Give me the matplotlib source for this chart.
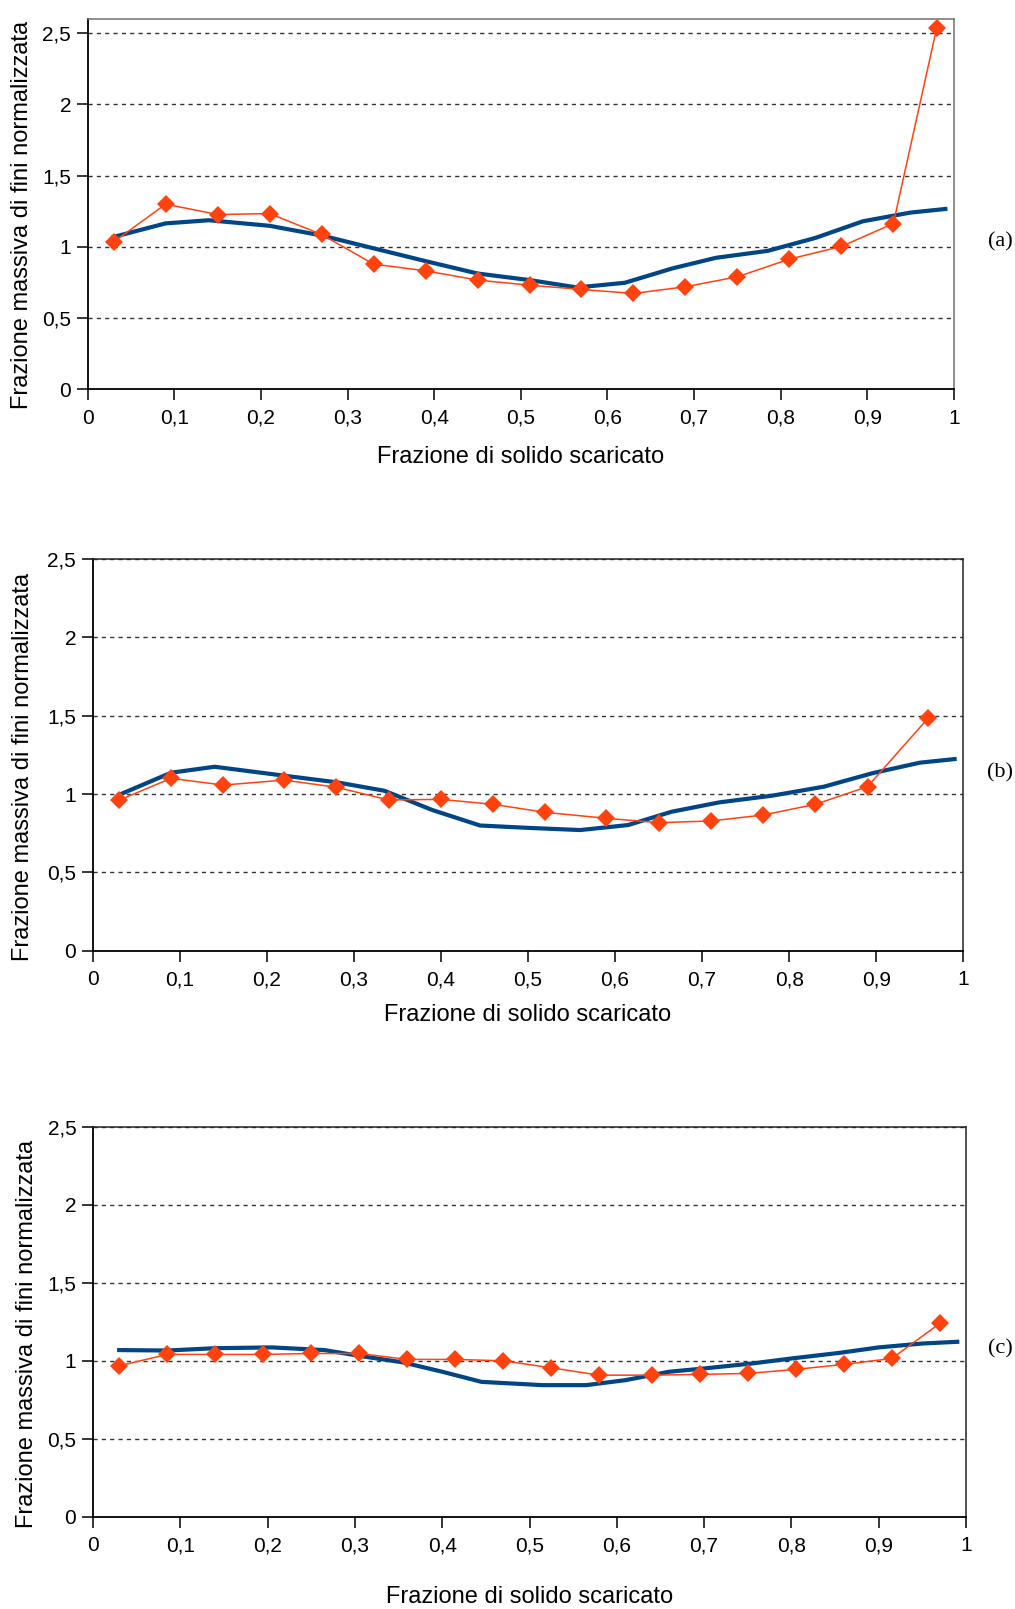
import matplotlib
matplotlib.use("Agg")
import matplotlib.pyplot as plt

plt.rcParams['font.family'] = ['Liberation Sans', 'DejaVu Sans']

# ---------------- data ----------------
xticks = [0, 0.1, 0.2, 0.3, 0.4, 0.5, 0.6, 0.7, 0.8, 0.9, 1]
xtick_labels = ["0", "0,1", "0,2", "0,3", "0,4", "0,5", "0,6", "0,7", "0,8", "0,9", "1"]
yticks = [0, 0.5, 1, 1.5, 2, 2.5]
ytick_labels = ["0", "0,5", "1", "1,5", "2", "2,5"]

# panel (a)
a_exp_x = [0.03, 0.09, 0.15, 0.21, 0.27, 0.33, 0.39, 0.45, 0.51, 0.57, 0.63, 0.69, 0.75, 0.81, 0.87, 0.93, 0.98]
a_exp_y = [1.035, 1.30, 1.227, 1.234, 1.087, 0.879, 0.832, 0.767, 0.731, 0.701, 0.673, 0.720, 0.790, 0.914, 1.003, 1.164, 2.536]
a_mod_x = [0.03, 0.09, 0.14, 0.21, 0.27, 0.33, 0.39, 0.45, 0.51, 0.565, 0.62, 0.675, 0.725, 0.785, 0.84, 0.895, 0.95, 0.99]
a_mod_y = [1.07, 1.165, 1.187, 1.148, 1.08, 0.99, 0.90, 0.813, 0.767, 0.715, 0.748, 0.849, 0.923, 0.972, 1.063, 1.180, 1.241, 1.266]

# panel (b)
b_exp_x = [0.03, 0.09, 0.15, 0.22, 0.28, 0.34, 0.40, 0.46, 0.52, 0.59, 0.65, 0.71, 0.77, 0.83, 0.89, 0.96]
b_exp_y = [0.96, 1.10, 1.057, 1.089, 1.043, 0.962, 0.966, 0.934, 0.883, 0.845, 0.817, 0.828, 0.866, 0.934, 1.047, 1.487]
b_mod_x = [0.03, 0.09, 0.14, 0.22, 0.28, 0.335, 0.39, 0.445, 0.50, 0.56, 0.615, 0.665, 0.72, 0.78, 0.84, 0.895, 0.95, 0.99]
b_mod_y = [0.994, 1.136, 1.174, 1.117, 1.075, 1.021, 0.898, 0.799, 0.784, 0.770, 0.802, 0.887, 0.947, 0.989, 1.047, 1.132, 1.200, 1.223]

# panel (c)
c_exp_x = [0.03, 0.085, 0.14, 0.195, 0.25, 0.305, 0.36, 0.415, 0.47, 0.525, 0.58, 0.64, 0.695, 0.75, 0.805, 0.86, 0.915, 0.97]
c_exp_y = [0.968, 1.041, 1.041, 1.041, 1.047, 1.047, 1.009, 1.009, 1.000, 0.955, 0.908, 0.908, 0.913, 0.919, 0.945, 0.977, 1.015, 1.240]
c_mod_x = [0.03, 0.085, 0.14, 0.205, 0.265, 0.305, 0.355, 0.40, 0.445, 0.515, 0.565, 0.61, 0.66, 0.70, 0.755, 0.80, 0.855, 0.90, 0.95, 0.99]
c_mod_y = [1.069, 1.066, 1.081, 1.086, 1.069, 1.032, 0.990, 0.930, 0.865, 0.844, 0.844, 0.876, 0.930, 0.951, 0.983, 1.015, 1.051, 1.086, 1.111, 1.122]

xlabel = "Frazione di solido scaricato"
ylabel = "Frazione massiva di fini normalizzata"
panel_tags = ["(a)", "(b)", "(c)"]

BLUE = "#004586"
ORANGE = "#FF420E"

W, H = 1015, 1609
fig = plt.figure(figsize=(W / 100, H / 100), dpi=100)

# axes boxes in pixels: left, right, top, bottom
boxes = [
    (87.7, 954.0, 19.0, 389.3),
    (92.7, 963.3, 559.0, 950.7),
    (93.0, 966.0, 1127.0, 1516.7),
]
ymaxs = [2.6, 2.5, 2.5]
xlab_off = [68, 64, 80]
ylab_x = [21.7, 23.0, 26.7]
tag_y = [242, 773, 1349]

panels = [
    (a_exp_x, a_exp_y, a_mod_x, a_mod_y),
    (b_exp_x, b_exp_y, b_mod_x, b_mod_y),
    (c_exp_x, c_exp_y, c_mod_x, c_mod_y),
]

for i, ((ex, ey, mx, my), (l, r, t, b)) in enumerate(zip(panels, boxes)):
    ax = fig.add_axes([l / W, 1 - b / H, (r - l) / W, (b - t) / H])
    ax.set_xlim(0, 1)
    ax.set_ylim(0, ymaxs[i])
    for yv in yticks[1:]:
        ax.axhline(yv, color="#333333", lw=1.0, ls=(0, (3, 3)), zorder=1)
    ax.plot(mx, my, color=BLUE, lw=3.0, zorder=3, solid_joinstyle="round")
    ax.plot(ex, ey, color=ORANGE, lw=1.1, marker="D", ms=8.8,
            markeredgewidth=0, zorder=4)
    ax.set_xticks(xticks)
    ax.set_xticklabels(xtick_labels)
    ax.set_yticks(yticks)
    ax.set_yticklabels(ytick_labels)
    ax.tick_params(axis="both", direction="out", length=8, width=1.1,
                   labelsize=15, pad=4, color="black")
    ax.tick_params(axis="x", pad=6)
    for s in ["left", "bottom"]:
        ax.spines[s].set_color("black")
        ax.spines[s].set_linewidth(1.3)
    for s in ["top", "right"]:
        ax.spines[s].set_color("#707070" if i == 0 else "#222222")
        ax.spines[s].set_linewidth(1.1)
    ax.set_xlabel(xlabel, fontsize=17)
    ax.xaxis.set_label_coords(0.5, -xlab_off[i] / (b - t), transform=ax.transAxes)
    ax.xaxis.label.set_verticalalignment("center")
    ax.set_ylabel(ylabel, fontsize=17)
    ax.yaxis.set_label_coords((ylab_x[i] - l) / (r - l), 0.47, transform=ax.transAxes)
    ax.yaxis.label.set_verticalalignment("center")
    fig.text(1000 / W, 1 - tag_y[i] / H, panel_tags[i], family="Liberation Serif",
             fontsize=16, ha="center", va="center")

fig.savefig("out.png", dpi=100)
